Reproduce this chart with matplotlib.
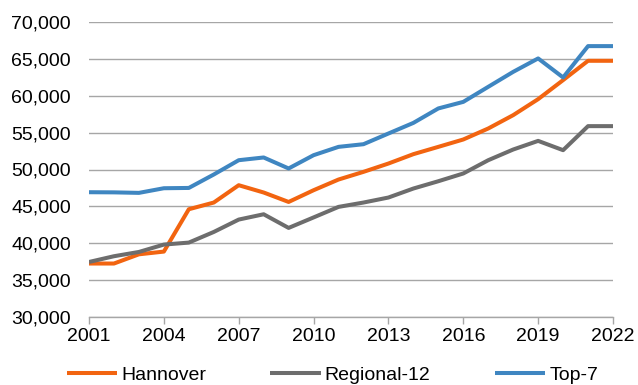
import matplotlib.pyplot as plt
from matplotlib.ticker import FuncFormatter

plt.rcParams['font.family'] = ['Liberation Sans', 'DejaVu Sans']

# Daten
years = list(range(2001, 2023))
hannover = [37250, 37250, 38500, 38870, 44610, 45520, 47870, 46880, 45600, 47190,
            48640, 49680, 50810, 52080, 53070, 54070, 55560, 57370, 59540, 62120,
            64740, 64740]
regional12 = [37460, 38240, 38820, 39820, 40090, 41530, 43210, 43930, 42080, 43500,
              44930, 45520, 46200, 47420, 48410, 49460, 51260, 52710, 53880, 52620,
              55880, 55880]
top7 = [46920, 46900, 46830, 47460, 47500, 49320, 51260, 51630, 50140, 51940,
        53070, 53430, 54880, 56320, 58280, 59170, 61210, 63240, 65060, 62480,
        66730, 66730]
xticks = list(range(2001, 2023, 3))
yticks = list(range(30000, 70001, 5000))

fig = plt.figure(figsize=(6.38, 3.85), dpi=100)
ax = fig.add_axes([89 / 638, 1 - 317 / 385, 524 / 638, 295 / 385])

lw = 2.9
ax.plot(years, hannover, color='#F26410', lw=lw, label='Hannover', solid_capstyle='butt')
ax.plot(years, regional12, color='#6D6D6D', lw=lw, label='Regional-12', solid_capstyle='butt')
ax.plot(years, top7, color='#3F86C1', lw=lw, label='Top-7', solid_capstyle='butt')

ax.set_xlim(2001, 2022)
ax.set_ylim(30000, 70000)
ax.set_xticks(xticks)
ax.set_yticks(yticks)
ax.yaxis.set_major_formatter(FuncFormatter(lambda v, p: f'{int(v):,}'))
ax.grid(axis='y', color='#A6A6A6', lw=1)
ax.set_axisbelow(True)

for s in ['top', 'right', 'left']:
    ax.spines[s].set_visible(False)
ax.spines['bottom'].set_color('#A6A6A6')
ax.spines['bottom'].set_linewidth(1)

ax.tick_params(axis='x', direction='out', length=5, color='#A6A6A6', width=1,
               labelsize=14, pad=3)
ax.tick_params(axis='y', length=0, labelsize=14, pad=13)

fig.legend(loc='lower center', ncol=3, frameon=False, fontsize=14,
           bbox_to_anchor=(0.521, -0.043), handlelength=2.6, columnspacing=3.3,
           handletextpad=0.2)

fig.savefig('out.png', dpi=100)
